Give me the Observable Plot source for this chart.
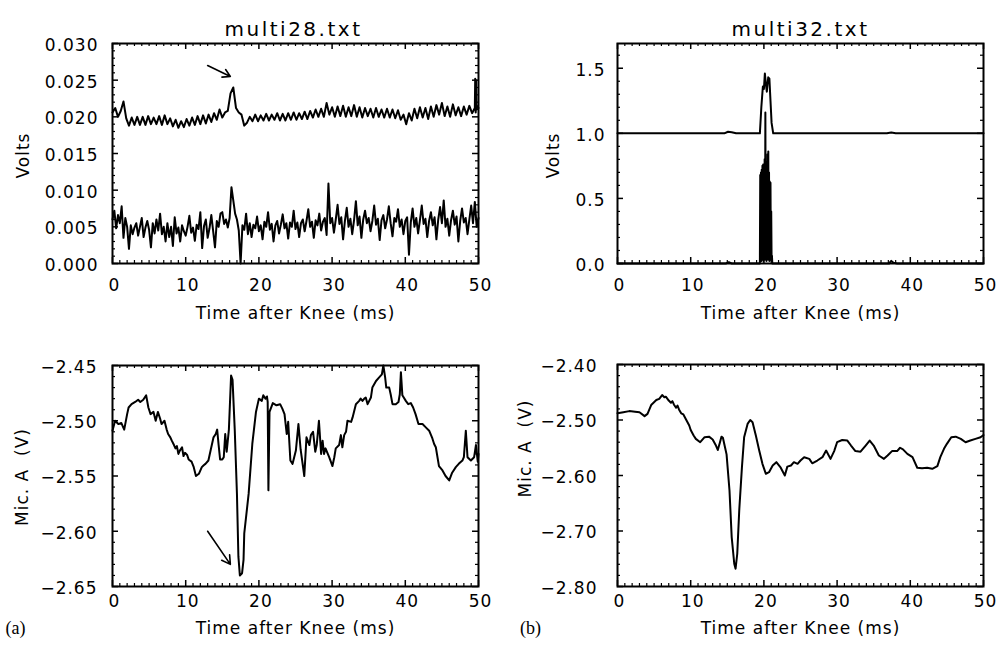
<!DOCTYPE html>
<html><head><meta charset="utf-8">
<script src="https://cdn.jsdelivr.net/npm/d3@7"></script>
<script src="https://cdn.jsdelivr.net/npm/@observablehq/plot@0.6"></script>
<style>
html,body{margin:0;padding:0;background:#fff;}
#fig{position:relative;width:999px;height:645px;overflow:hidden;background:#fff;}
#fig svg{position:absolute;}
#fig svg text{letter-spacing:1px;white-space:pre;}
</style></head><body><div id="fig"></div>
<script>
// ---------- shared tick labels ----------
const xTicks = [0, 10, 20, 30, 40, 50];
const yTicksA1 = [0, 0.005, 0.010, 0.015, 0.020, 0.025, 0.030];
const yTicksB1 = [0, 0.5, 1.0, 1.5];
const yTicksA2 = [-2.65, -2.60, -2.55, -2.50, -2.45];
const yTicksB2 = [-2.80, -2.70, -2.60, -2.50, -2.40];
const titles = ["multi28.txt", "multi32.txt"];
const xLabel = "Time after Knee (ms)";
const yLabelTop = "Volts";
const yLabelBottom = "Mic. A  (V)";
const tags = ["(a)", "(b)"];

// ---------- multi28: upper photometer trace (sampled every 0.375 ms from 0) ----------
const up28Start = 0, up28Step = 0.375;
const up28V = [
0.0206,0.0212,0.0200,0.0208,0.0221,0.0198,0.0188,0.0199,0.0189,0.0200,
0.0189,0.0200,0.0189,0.0201,0.0190,0.0199,0.0190,0.0201,0.0189,0.0202,
0.0190,0.0198,0.0187,0.0196,0.0185,0.0194,0.0186,0.0197,0.0188,0.0199,
0.0189,0.0201,0.0190,0.0202,0.0191,0.0203,0.0193,0.0205,0.0196,0.0210,
0.0199,0.0206,0.0208,0.0232,0.0240,0.0212,0.0206,0.0203,0.0188,0.0192,
0.0200,0.0194,0.0203,0.0194,0.0202,0.0195,0.0204,0.0195,0.0203,0.0196,
0.0205,0.0195,0.0204,0.0195,0.0205,0.0196,0.0206,0.0196,0.0205,0.0197,
0.0207,0.0197,0.0208,0.0199,0.0210,0.0200,0.0211,0.0200,0.0219,0.0203,
0.0213,0.0200,0.0214,0.0201,0.0215,0.0200,0.0213,0.0201,0.0216,0.0200,
0.0213,0.0199,0.0212,0.0201,0.0211,0.0199,0.0212,0.0200,0.0210,0.0199,
0.0211,0.0199,0.0210,0.0198,0.0209,0.0196,0.0203,0.0190,0.0205,0.0195,
0.0211,0.0198,0.0213,0.0199,0.0212,0.0197,0.0214,0.0200,0.0216,0.0203,
0.0219,0.0201,0.0214,0.0200,0.0217,0.0202,0.0213,0.0201,0.0214,0.0203,
0.0215,0.0205,0.0212];
const up28TailT = [49.55, 49.62, 49.68, 49.74, 49.8, 50.0];
const up28TailV = [0.0252, 0.0206, 0.0250, 0.0210, 0.0215, 0.0212];

// ---------- multi28: lower photometer trace (sampled every 0.25 ms from 0) ----------
const lo28Start = 0, lo28Step = 0.25;
const lo28V = [
0.0060,0.0072,0.0048,0.0066,0.0055,0.0078,0.0035,0.0062,0.0050,0.0020,
0.0052,0.0040,0.0049,0.0055,0.0038,0.0050,0.0062,0.0036,0.0049,0.0058,
0.0046,0.0022,0.0055,0.0041,0.0060,0.0045,0.0068,0.0040,0.0050,0.0030,
0.0055,0.0036,0.0050,0.0024,0.0063,0.0041,0.0049,0.0030,0.0052,0.0044,
0.0038,0.0050,0.0065,0.0042,0.0049,0.0031,0.0053,0.0047,0.0070,0.0021,
0.0051,0.0060,0.0035,0.0048,0.0066,0.0044,0.0022,0.0058,0.0050,0.0068,
0.0070,0.0054,0.0060,0.0049,0.0062,0.0104,0.0086,0.0068,0.0060,0.0045,
0.0000,0.0052,0.0046,0.0068,0.0040,0.0055,0.0036,0.0053,0.0048,0.0064,
0.0044,0.0052,0.0033,0.0057,0.0050,0.0070,0.0046,0.0054,0.0030,0.0052,
0.0058,0.0041,0.0053,0.0067,0.0048,0.0055,0.0034,0.0056,0.0050,0.0072,
0.0047,0.0056,0.0036,0.0055,0.0060,0.0044,0.0058,0.0074,0.0050,0.0057,
0.0035,0.0059,0.0052,0.0068,0.0045,0.0057,0.0062,0.0039,0.0109,0.0055,
0.0062,0.0042,0.0060,0.0080,0.0054,0.0063,0.0033,0.0058,0.0076,0.0050,
0.0061,0.0040,0.0059,0.0085,0.0052,0.0064,0.0035,0.0060,0.0072,0.0055,
0.0062,0.0044,0.0058,0.0079,0.0053,0.0061,0.0032,0.0059,0.0066,0.0048,
0.0060,0.0078,0.0055,0.0037,0.0062,0.0057,0.0074,0.0050,0.0060,0.0040,
0.0058,0.0063,0.0012,0.0056,0.0075,0.0050,0.0062,0.0041,0.0059,0.0079,
0.0054,0.0061,0.0036,0.0058,0.0070,0.0052,0.0063,0.0033,0.0060,0.0077,
0.0055,0.0086,0.0050,0.0061,0.0038,0.0059,0.0072,0.0053,0.0064,0.0030,
0.0058,0.0075,0.0056,0.0062,0.0040,0.0060,0.0079,0.0055,0.0084,0.0050];
const lo28TailT = [50.0];
const lo28TailV = [0.0062];

// ---------- multi32: photometer traces ----------
const up32T = [0, 14.6, 15.1, 15.6, 16.2, 19.45, 19.65, 19.86, 20.0, 20.13, 20.27, 20.4, 20.59, 20.75, 20.9, 21.05, 21.27, 36.8, 37.4, 38.0, 50];
const up32V = [1.0, 1.0, 1.012, 1.008, 1.0, 1.0, 1.2, 1.36, 1.34, 1.46, 1.38, 1.32, 1.43, 1.42, 1.25, 1.08, 1.0, 1.0, 1.006, 1.0, 1.0];
const lo32T = [0, 14.8, 15.2, 15.6, 19.4,
19.45,19.50,19.55,19.60,19.65,19.70,19.75,19.80,19.85,19.90,19.95,20.00,20.05,20.10,20.15,20.20,20.25,20.30,
20.35,20.40,20.45,20.50,20.55,20.60,20.65,20.70,20.75,20.80,20.85,20.90,20.95,21.00,21.05,21.10,21.15,
21.3, 37.1, 37.4, 37.7, 38.2, 50];
const lo32V = [0, 0, 0.01, 0, 0,
0.0,0.68,0.05,0.70,0.02,0.72,0.04,0.75,0.03,0.76,0.02,0.74,0.05,0.80,0.03,1.16,0.04,0.78,
0.02,0.76,0.05,0.84,0.03,0.86,0.04,0.70,0.02,0.63,0.05,0.62,0.03,0.40,0.02,0.06,0.0,
0, 0, 0.02, 0.005, 0, 0];

// ---------- multi28: microphone A ----------
const mic28T = [0.0,0.35,0.8,1.2,1.6,2.0,2.2,2.6,3.1,3.5,3.8,4.2,4.6,4.9,5.2,5.6,5.9,6.2,6.5,6.7,7.1,7.4,7.6,7.9,8.1,8.4,8.6,8.8,9.0,9.2,9.5,9.7,9.9,10.2,10.4,10.8,11.1,11.4,11.8,12.2,12.5,12.7,13.1,13.4,13.8,14.1,14.3,14.5,14.7,15.0,15.2,15.4,15.6,15.9,16.2,16.4,16.7,17.0,17.2,17.4,17.7,17.9,18.0,18.6,19.1,19.6,20.0,20.4,20.6,20.9,21.1,21.2,21.3,21.45,21.9,22.4,22.9,23.2,23.5,23.8,24.0,24.3,24.6,25.05,25.4,25.7,26.2,26.5,26.9,27.1,27.4,27.7,27.9,28.2,28.5,28.7,28.9,29.1,29.6,30.05,30.3,30.5,30.96,31.2,31.4,31.65,31.9,32.1,32.6,32.8,33.25,33.7,33.9,34.15,34.4,34.6,34.85,35.3,35.5,36.0,36.4,36.8,37.0,37.25,37.4,37.8,38.0,38.25,38.7,39.07,39.25,39.4,39.6,40.07,40.4,40.75,41.07,41.4,41.8,42.35,42.8,43.26,43.7,43.94,44.17,44.6,45.08,45.5,46.0,46.4,46.9,47.3,47.8,48.0,48.27,48.5,48.96,49.4,49.65,49.9,50.0];
const mic28V = [-2.509,-2.500,-2.503,-2.502,-2.508,-2.494,-2.488,-2.485,-2.483,-2.481,-2.483,-2.481,-2.477,-2.488,-2.494,-2.492,-2.500,-2.492,-2.498,-2.503,-2.500,-2.508,-2.512,-2.515,-2.518,-2.522,-2.525,-2.523,-2.530,-2.527,-2.524,-2.532,-2.529,-2.531,-2.535,-2.537,-2.542,-2.550,-2.548,-2.542,-2.540,-2.539,-2.536,-2.527,-2.515,-2.512,-2.508,-2.522,-2.535,-2.535,-2.533,-2.512,-2.528,-2.508,-2.459,-2.463,-2.508,-2.566,-2.623,-2.640,-2.638,-2.626,-2.602,-2.566,-2.521,-2.492,-2.480,-2.482,-2.477,-2.480,-2.478,-2.483,-2.563,-2.492,-2.484,-2.486,-2.485,-2.489,-2.494,-2.512,-2.501,-2.536,-2.539,-2.527,-2.503,-2.526,-2.550,-2.515,-2.522,-2.513,-2.510,-2.528,-2.522,-2.500,-2.530,-2.518,-2.530,-2.525,-2.533,-2.541,-2.533,-2.525,-2.522,-2.513,-2.524,-2.513,-2.510,-2.500,-2.501,-2.497,-2.485,-2.482,-2.480,-2.482,-2.480,-2.479,-2.485,-2.479,-2.470,-2.464,-2.461,-2.458,-2.450,-2.461,-2.470,-2.470,-2.476,-2.485,-2.485,-2.483,-2.476,-2.456,-2.477,-2.482,-2.485,-2.484,-2.488,-2.494,-2.503,-2.503,-2.506,-2.509,-2.516,-2.521,-2.524,-2.541,-2.545,-2.550,-2.554,-2.547,-2.542,-2.539,-2.536,-2.533,-2.509,-2.533,-2.536,-2.533,-2.522,-2.537,-2.530];

// ---------- multi32: microphone A ----------
const mic32T = [0.0,0.8,1.6,2.4,3.0,3.7,4.1,4.6,5.3,5.7,6.1,6.4,6.6,7.0,7.3,7.5,7.7,8.0,8.2,8.4,8.7,9.0,9.4,9.8,10.0,10.4,10.7,11.3,11.9,12.5,13.0,13.45,13.7,14.0,14.2,14.4,14.7,14.9,15.3,15.6,15.95,16.13,16.36,16.63,17.0,17.3,17.77,18.13,18.45,18.9,19.36,19.8,20.27,20.7,21.2,21.7,22.3,22.86,23.2,23.7,24.1,24.6,25.0,25.5,26.2,26.6,27.3,28.0,28.5,29.1,29.6,30.0,30.7,31.4,31.9,32.5,33.2,33.9,34.45,35.0,35.7,36.4,36.9,37.5,38.2,38.6,39.0,39.6,40.3,40.95,41.6,42.3,43.0,43.7,44.1,44.6,45.0,45.6,46.2,46.9,47.55,48.2,48.9,49.6,50.0];
const mic32V = [-2.488,-2.486,-2.484,-2.485,-2.486,-2.493,-2.489,-2.473,-2.464,-2.462,-2.455,-2.459,-2.458,-2.465,-2.469,-2.466,-2.472,-2.478,-2.474,-2.481,-2.488,-2.490,-2.500,-2.510,-2.518,-2.528,-2.534,-2.540,-2.531,-2.530,-2.535,-2.546,-2.554,-2.540,-2.530,-2.532,-2.550,-2.562,-2.627,-2.711,-2.759,-2.768,-2.741,-2.663,-2.585,-2.531,-2.507,-2.500,-2.504,-2.528,-2.555,-2.579,-2.597,-2.594,-2.582,-2.576,-2.586,-2.600,-2.584,-2.582,-2.576,-2.579,-2.573,-2.567,-2.570,-2.578,-2.573,-2.567,-2.555,-2.570,-2.556,-2.540,-2.536,-2.537,-2.546,-2.556,-2.557,-2.546,-2.537,-2.546,-2.564,-2.570,-2.564,-2.556,-2.556,-2.550,-2.553,-2.561,-2.567,-2.586,-2.587,-2.586,-2.588,-2.583,-2.567,-2.552,-2.543,-2.531,-2.530,-2.534,-2.540,-2.537,-2.534,-2.531,-2.527];

// ---------- annotation arrows [t1, v1, t2, v2] ----------
const arrowTopA = [13.0, 0.0270, 16.1, 0.0255];
const arrowBottomA = [13.0, -2.600, 16.1, -2.630];

// ---------- build tables ----------
const fromSteps = (start, step, vals, tailT, tailV) =>
  vals.map((v, i) => ({t: start + i * step, v})).concat(tailT.map((t, i) => ({t, v: tailV[i]})));
const zip = (T, V) => T.map((t, i) => ({t, v: V[i]}));

const up28 = fromSteps(up28Start, up28Step, up28V, up28TailT, up28TailV);
const lo28 = fromSteps(lo28Start, lo28Step, lo28V, lo28TailT, lo28TailV);
const up32 = zip(up32T, up32V);
const lo32 = zip(lo32T, lo32V);
const mic28 = zip(mic28T, mic28V);
const mic32 = zip(mic32T, mic32V);

const xMinor = d3.range(0, 51).filter(i => i % 10);

function panel(o) {
  const fw = o.width - o.mL - o.mR, fh = o.height - o.mT - o.mB;
  const marks = [];
  for (const s of o.series) marks.push(Plot.line(s, {x: "t", y: "v", stroke: "black", strokeWidth: 2}));
  marks.push(Plot.frame({stroke: "black", strokeWidth: 2}));
  marks.push(Plot.tickX(xTicks, {x: d => d, insetTop: fh - 6, strokeWidth: 1.5}));
  marks.push(Plot.tickX(xTicks, {x: d => d, insetBottom: fh - 6, strokeWidth: 1.5}));
  marks.push(Plot.tickX(xMinor, {x: d => d, insetTop: fh - 3, strokeWidth: 1.2}));
  marks.push(Plot.tickX(xMinor, {x: d => d, insetBottom: fh - 3, strokeWidth: 1.2}));
  marks.push(Plot.tickY(o.yTicks, {y: d => d, insetRight: fw - 6, strokeWidth: 1.5}));
  marks.push(Plot.tickY(o.yTicks, {y: d => d, insetLeft: fw - 6, strokeWidth: 1.5}));
  marks.push(Plot.tickY(o.yMinor, {y: d => d, insetRight: fw - 3, strokeWidth: 1.2}));
  marks.push(Plot.tickY(o.yMinor, {y: d => d, insetLeft: fw - 3, strokeWidth: 1.2}));
  marks.push(Plot.text(xTicks, {x: d => d, frameAnchor: "bottom", dy: o.xTickDy, dx: 2, textAnchor: "middle", text: d => String(d), fontSize: 17}));
  marks.push(Plot.text(o.yTicks, {y: d => d, frameAnchor: "left", dx: o.yTickDx, dy: 2, textAnchor: "end", text: o.yFmt, fontSize: 17}));
  marks.push(Plot.text([xLabel], {frameAnchor: "bottom", dy: o.xLabelDy, textAnchor: "middle", text: d => d, fontSize: 17}));
  marks.push(Plot.text([o.yLabel], {frameAnchor: "left", dx: o.yLabelDx, dy: o.yLabelDy, rotate: -90, textAnchor: "middle", text: d => d, fontSize: 17}));
  if (o.title) marks.push(Plot.text([o.title], {frameAnchor: "top", dy: o.titleDy, dx: o.titleDx, textAnchor: "middle", text: d => d, fontSize: 20}));
  if (o.tag) marks.push(Plot.text([o.tag], {frameAnchor: "bottom-left", dx: o.tagDx, dy: o.tagDy, textAnchor: "middle", text: d => d, fontSize: 18, fontFamily: "Liberation Serif"}));
  if (o.arrow) marks.push(Plot.arrow([o.arrow], {x1: d => d[0], y1: d => d[1], x2: d => d[2], y2: d => d[3], stroke: "black", strokeWidth: 1.6, headLength: 9}));
  const svg = Plot.plot({
    width: o.width, height: o.height,
    marginLeft: o.mL, marginRight: o.mR, marginTop: o.mT, marginBottom: o.mB,
    x: {domain: [0, 50], axis: null},
    y: {domain: o.yDomain, axis: null},
    style: {fontFamily: "DejaVu Sans", color: "black", background: "transparent", overflow: "visible"},
    marks
  });
  svg.style.left = o.left + "px";
  svg.style.top = o.top + "px";
  svg.querySelectorAll("text").forEach(t => {
    if (titles.includes(t.textContent)) t.style.letterSpacing = "2.5px";
    if (tags.includes(t.textContent)) t.style.letterSpacing = "0px";
  });
  document.getElementById("fig").appendChild(svg);
}

panel({
  left: 0, top: 0, width: 500, height: 330, mL: 112, mR: 22, mT: 43, mB: 67,
  yDomain: [0, 0.030], yTicks: yTicksA1,
  yMinor: d3.range(0, 31).filter(i => i % 5).map(i => i / 1000),
  yFmt: d3.format(".3f"), series: [up28, lo28],
  xTickDy: 27, yTickDx: -14, xLabelDy: 55, yLabel: yLabelTop, yLabelDx: -89, yLabelDy: 2,
  title: titles[0], titleDy: -22, titleDx: -2, arrow: arrowTopA
});
panel({
  left: 500, top: 0, width: 499, height: 330, mL: 117, mR: 16, mT: 43, mB: 67,
  yDomain: [0, 1.69], yTicks: yTicksB1,
  yMinor: d3.range(0, 17).filter(i => i % 5).map(i => i / 10),
  yFmt: d3.format(".1f"), series: [up32, lo32],
  xTickDy: 27, yTickDx: -12, xLabelDy: 55, yLabel: yLabelTop, yLabelDx: -64, yLabelDy: 2,
  title: titles[1], titleDy: -22, titleDx: 0
});
panel({
  left: 0, top: 330, width: 500, height: 315, mL: 112, mR: 22, mT: 35, mB: 59,
  yDomain: [-2.65, -2.45], yTicks: yTicksA2,
  yMinor: d3.range(0, 21).filter(i => i % 5).map(i => -2.65 + i / 100),
  yFmt: d3.format(".2f"), series: [mic28],
  xTickDy: 20, yTickDx: -15, xLabelDy: 47, yLabel: yLabelBottom, yLabelDx: -90, yLabelDy: 1,
  tag: tags[0], tagDx: -97, tagDy: 47, arrow: arrowBottomA
});
panel({
  left: 500, top: 330, width: 499, height: 315, mL: 117, mR: 16, mT: 34, mB: 59,
  yDomain: [-2.80, -2.40], yTicks: yTicksB2,
  yMinor: d3.range(0, 21).filter(i => i % 5).map(i => -2.80 + i * 0.02),
  yFmt: d3.format(".2f"), series: [mic32],
  xTickDy: 20, yTickDx: -20, xLabelDy: 47, yLabel: yLabelBottom, yLabelDx: -92, yLabelDy: -27,
  tag: tags[1], tagDx: -87, tagDy: 47
});
</script></body></html>
